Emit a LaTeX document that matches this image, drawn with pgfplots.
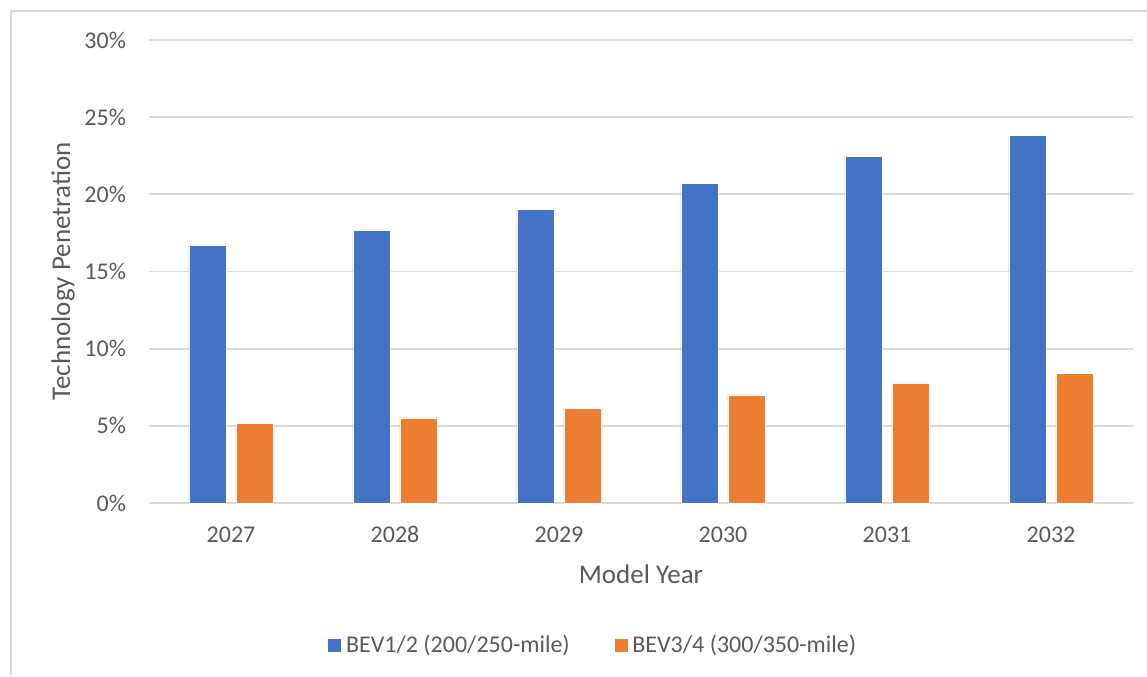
\documentclass[border=0pt]{standalone}
\usepackage{pgfplots}
\pgfplotsset{compat=1.18}
\usepackage{fontspec}
\setmainfont{Carlito}

\definecolor{bevblue}{RGB}{68,114,196}
\definecolor{bevorange}{RGB}{237,125,49}
\definecolor{gridgray}{RGB}{217,217,217}
\definecolor{textgray}{RGB}{89,89,89}

\begin{document}
\begin{tikzpicture}
% page = 1147 x 676 px at 0.5pt per px
\path[use as bounding box] (0pt,0pt) rectangle (573.5pt,338pt);
\draw[gridgray, line width=0.6pt] (5.5pt,0pt) -- (5.5pt,332.5pt) -- (573.5pt,332.5pt);

\begin{axis}[
  at={(74.5pt,86.5pt)}, anchor=south west,
  scale only axis,
  width=492pt, height=231.5pt,
  ybar=5pt, bar width=18.5pt,
  xmin=-0.5, xmax=5.5,
  ymin=0, ymax=30,
  xtick=data,
  xticklabels={2027,2028,2029,2030,2031,2032},
  ytick={0,5,10,15,20,25,30},
  yticklabel={\pgfmathprintnumber{\tick}\%},
  /pgf/number format/assume math mode=true,
  typeset ticklabels with strut,
  axis line style={draw=none},
  major tick length=0pt,
  ymajorgrids,
  y grid style={gridgray, line width=0.9pt},
  tick label style={font=\fontsize{12}{14}\selectfont, text=textgray},
  yticklabel style={xshift=-8pt},
  xticklabel style={yshift=-6.5pt},
  xlabel={Model Year},
  ylabel={Technology Penetration},
  label style={font=\fontsize{13.5}{16}\selectfont, text=textgray},
  xlabel style={yshift=0pt},
  ylabel style={yshift=-2pt},
  legend columns=2,
  legend style={
    draw=none, fill=none,
    at={(0.452,-0.3067)}, anchor=center,
    font=\fontsize{12}{14}\selectfont, text=textgray,
    /tikz/every even column/.append style={column sep=20pt},
  },
  legend cell align={left},
  legend image code/.code={\fill[#1] (0pt,-3.5pt) rectangle (7pt,3.5pt);},
  clip=false,
]
\addplot[fill=bevblue, draw=white, line width=0.3pt] coordinates {
  (0,16.70) (1,17.67) (2,19.01) (3,20.73) (4,22.48) (5,23.82)
};
\addlegendentry{BEV1/2 (200/250-mile)}
\addplot[fill=bevorange, draw=white, line width=0.3pt] coordinates {
  (0,5.14) (1,5.51) (2,6.13) (3,7.00) (4,7.78) (5,8.40)
};
\addlegendentry{BEV3/4 (300/350-mile)}
\end{axis}
\end{tikzpicture}
\end{document}
